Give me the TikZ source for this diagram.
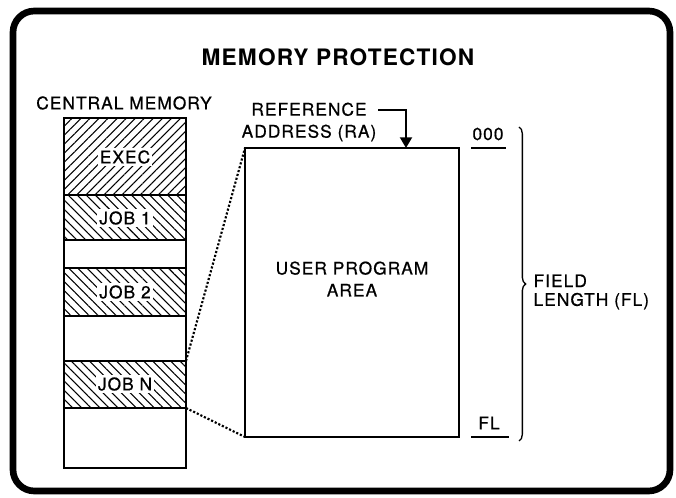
\documentclass[tikz,border=0pt]{standalone}
\usepackage{fontspec}
\setmainfont[LetterSpace=5]{TeX Gyre Heros}
\newfontfamily\lblfont[LetterSpace=6,FakeBold=0.7]{TeX Gyre Heros}
\usepackage{tikz}
\usetikzlibrary{positioning}
\usetikzlibrary{patterns.meta,decorations.pathreplacing,arrows.meta}

\tikzset{
	frame/.style={line width=5pt,rounded corners=16pt},
	titletext/.style={font=\bfseries\fontsize{17}{20}\selectfont},
	lbl/.style={font=\lblfont\fontsize{13}{16.5}\selectfont,inner sep=1pt},
	blk/.style={lbl,fill=white,inner sep=1.5pt},
	wall/.style={line width=1.5pt},
	execfill/.style={wall,pattern={Lines[angle=45,distance=4.8pt,line width=0.8pt]}},
	jobfill/.style={wall,pattern={Lines[angle=-45,distance=4.8pt,line width=0.8pt]}},
	dotline/.style={line width=1.6pt,dash pattern=on 1.6pt off 1.4pt},
}

\begin{document}
\begin{tikzpicture}[x=0.75pt,y=-0.75pt]
	\useasboundingbox (0,0) rectangle (676,498);
	\draw[frame] (13,11) rectangle (670,491);

				%Nodes
				\node[titletext] (title) at (338,57) {MEMORY PROTECTION};
				\node[lbl] (cmem) at (124,103) {CENTRAL MEMORY};
				\node[lbl,align=center] (ref) at (309,122) {REFERENCE\\ADDRESS (RA)};
				\node[lbl,align=center] (upa) at (352,279) {USER PROGRAM\\AREA};
				\node[lbl] (zero) at (488,134) {000};
				\node[lbl] (fl) at (489,423) {FL};
				\node[lbl,align=left,anchor=west,font=\lblfont\fontsize{13}{14}\selectfont] (flen) at (532,292) {FIELD\\LENGTH (FL)};

				%Memory column, left and right edges
				\coordinate      (c0) 	at 	(64,118);
				\coordinate      (c1) 	at 	(64,195);
				\coordinate      (c2) 	at 	(64,240);
				\coordinate      (c3) 	at 	(64,268);
				\coordinate      (c4) 	at 	(64,316);
				\coordinate      (c5) 	at 	(64,361);
				\coordinate      (c6) 	at 	(64,408);
				\coordinate      (c7) 	at 	(64,468);
				\coordinate      (d0) 	at 	(186,118);
				\coordinate      (d1) 	at 	(186,195);
				\coordinate      (d2) 	at 	(186,240);
				\coordinate      (d3) 	at 	(186,268);
				\coordinate      (d4) 	at 	(186,316);
				\coordinate      (d5) 	at 	(186,361);
				\coordinate      (d6) 	at 	(186,408);
				\coordinate      (d7) 	at 	(186,468);

				%Program area
				\coordinate      (a0) 	at 	(245,148);
				\coordinate      (a1) 	at 	(459,437);
				\coordinate      (a2) 	at 	(245,437);
				\coordinate      (r0) 	at 	(378,110);
				\coordinate      (r1) 	at 	(406,110);
				\coordinate      (r2) 	at 	(406,148);
				\coordinate      (u0) 	at 	(471,148);
				\coordinate      (u1) 	at 	(506,148);
				\coordinate      (u2) 	at 	(471,437);
				\coordinate      (u3) 	at 	(509,437);
				\coordinate      (b0) 	at 	(519,127);
				\coordinate      (b1) 	at 	(519,441);

				%Blocks
				\draw[execfill] (c0) rectangle (d1);
				\draw[jobfill] (c1) rectangle (d2);
				\draw[wall] (c2) rectangle (d3);
				\draw[jobfill] (c3) rectangle (d4);
				\draw[wall] (c4) rectangle (d5);
				\draw[jobfill] (c5) rectangle (d6);
				\draw[wall] (c6) rectangle (d7);
				\node[blk] (exec) at (125,157) {EXEC};
				\node[blk] (job1) at (125,218) {JOB 1};
				\node[blk] (job2) at (125,292) {JOB 2};
				\node[blk] (jobn) at (125,384) {JOB N};

				%Lines
				\draw[wall] (a0) rectangle (a1);
				\draw[dotline] (d5) -- (a0);
				\draw[dotline] (d6) -- (a2);
				\draw[wall,-{Triangle[width=9pt,length=8pt]}] (r0) -- (r1) -- (r2);
				\draw[wall] (u0) -- (u1);
				\draw[wall] (u2) -- (u3);
				\draw[line width=1pt,decorate,decoration={brace,amplitude=5pt}] (b0) -- (b1);

\end{tikzpicture}
\end{document}
